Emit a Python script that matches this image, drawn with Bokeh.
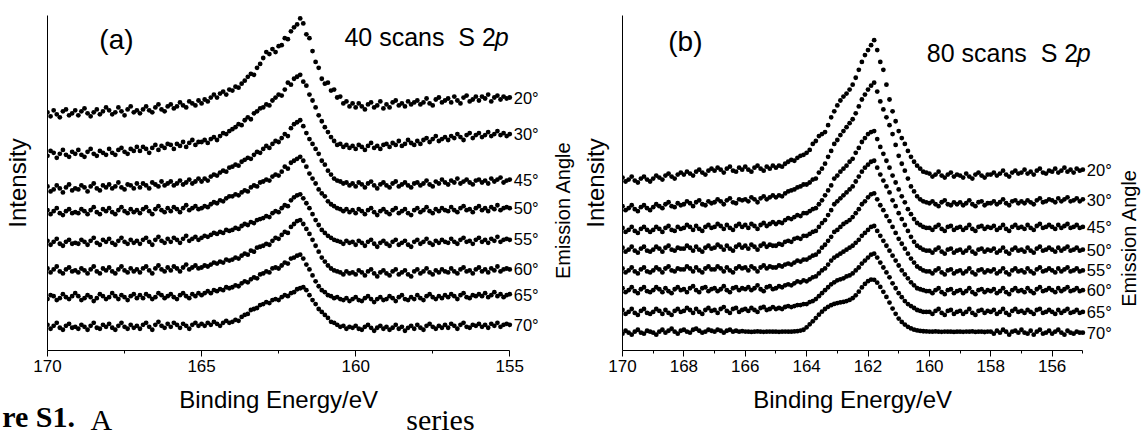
import math
import numpy as np
from bokeh.plotting import figure
from bokeh.layouts import row
from bokeh.models import Range1d, FixedTicker, Label, ColumnDataSource, LinearAxis
from bokeh.embed import file_html
from bokeh.resources import INLINE

# ---------------- data ----------------
E_START = 170.0      # binding energy of first point (eV)
E_STEP = 0.1         # acquisition step (eV)
N_POINTS = 151

ANGLES = ["20°", "30°", "45°", "50°", "55°", "60°", "65°", "70°"]

# (a) 40 scans, S 2p, intensity (a.u., offset per angle)
A_20 = [241, 237, 243, 239, 236, 242, 244, 238, 240, 243,
        238, 242, 245, 240, 237, 241, 244, 239, 242, 246,
        243, 239, 241, 246, 242, 238, 244, 247, 241, 243,
        240, 244, 247, 243, 241, 246, 249, 244, 242, 247,
        249, 245, 247, 251, 248, 246, 252, 250, 248, 253,
        250, 254, 252, 256, 259, 256, 260, 262, 259, 264,
        263, 267, 266, 270, 273, 277, 280, 279, 286, 290,
        296, 302, 300, 305, 302, 308, 309, 316, 315, 323,
        327, 330, 336, 331, 320, 316, 303, 292, 286, 275,
        270, 271, 263, 264, 256, 257, 250, 252, 247, 250,
        246, 250, 247, 244, 249, 251, 246, 248, 252, 245,
        249, 246, 251, 253, 248, 250, 247, 252, 249, 251,
        253, 249, 251, 255, 250, 248, 254, 256, 251, 253,
        255, 251, 257, 253, 250, 256, 258, 252, 254, 257,
        253, 257, 255, 259, 252, 256, 258, 254, 257, 255, 256]
A_30 = [197, 202, 200, 195, 199, 203, 198, 196, 201, 199,
        203, 198, 196, 201, 204, 199, 197, 202, 200, 198,
        204, 200, 198, 203, 205, 201, 199, 204, 202, 206,
        202, 206, 204, 200, 205, 208, 203, 207, 205, 209,
        208, 204, 209, 207, 211, 206, 210, 213, 208, 211,
        211, 213, 210, 214, 216, 213, 217, 220, 219, 222,
        224, 226, 229, 228, 233, 236, 234, 240, 242, 245,
        246, 249, 248, 253, 256, 259, 258, 264, 271, 269,
        275, 277, 279, 272, 268, 259, 253, 246, 238, 232,
        226, 221, 216, 212, 208, 209, 206, 208, 205, 207,
        204, 208, 206, 203, 207, 210, 205, 207, 204, 208,
        209, 206, 210, 208, 212, 207, 209, 213, 210, 208,
        212, 209, 213, 215, 211, 214, 217, 212, 214, 216,
        213, 217, 215, 219, 216, 213, 218, 220, 215, 218,
        220, 216, 218, 221, 217, 219, 222, 218, 220, 217, 219]
A_45 = [166, 161, 163, 167, 164, 160, 165, 168, 162, 164,
        163, 167, 165, 161, 166, 169, 164, 162, 167, 165,
        168, 164, 166, 170, 165, 163, 168, 167, 164, 169,
        165, 169, 167, 164, 170, 168, 166, 171, 167, 169,
        171, 167, 169, 172, 168, 170, 173, 169, 171, 174,
        171, 174, 172, 176, 178, 177, 180, 182, 181, 185,
        186, 188, 187, 191, 193, 195, 194, 198, 201, 200,
        204, 207, 205, 209, 212, 211, 215, 219, 217, 225,
        229, 231, 233, 227, 220, 214, 209, 204, 199, 192,
        188, 182, 178, 174, 172, 171, 169, 170, 167, 169,
        166, 170, 168, 165, 169, 171, 167, 164, 168, 170,
        167, 165, 169, 171, 166, 168, 170, 167, 165, 169,
        170, 167, 169, 172, 168, 166, 171, 169, 173, 170,
        168, 172, 170, 174, 169, 171, 173, 170, 168, 172,
        173, 170, 172, 169, 174, 171, 173, 175, 170, 172, 173]
A_50 = [142, 138, 141, 144, 139, 137, 141, 143, 139, 140,
        139, 143, 141, 138, 142, 145, 140, 138, 143, 141,
        144, 140, 138, 142, 145, 141, 139, 143, 140, 142,
        139, 143, 145, 141, 138, 143, 146, 142, 140, 144,
        141, 145, 143, 140, 144, 147, 142, 144, 146, 143,
        144, 146, 145, 148, 150, 149, 152, 151, 154, 156,
        156, 158, 157, 160, 162, 161, 165, 167, 166, 170,
        171, 173, 172, 176, 178, 177, 181, 186, 184, 190,
        192, 194, 196, 192, 186, 179, 174, 169, 163, 159,
        156, 151, 148, 146, 144, 143, 141, 143, 140, 142,
        139, 143, 141, 138, 142, 144, 140, 137, 141, 143,
        140, 138, 142, 144, 139, 141, 143, 139, 137, 142,
        144, 140, 142, 145, 141, 139, 143, 141, 144, 142,
        141, 145, 142, 140, 144, 146, 142, 143, 140, 144,
        146, 142, 144, 141, 145, 143, 147, 142, 144, 145, 144]
A_55 = [111, 107, 110, 113, 108, 106, 110, 112, 108, 109,
        108, 112, 110, 107, 111, 114, 109, 107, 112, 110,
        113, 109, 107, 111, 114, 110, 108, 112, 109, 111,
        108, 112, 114, 110, 107, 112, 115, 111, 109, 113,
        110, 114, 112, 109, 113, 116, 111, 113, 115, 112,
        114, 116, 115, 117, 119, 118, 120, 119, 122, 121,
        122, 124, 123, 126, 128, 127, 130, 129, 132, 133,
        134, 136, 135, 139, 141, 140, 144, 147, 146, 152,
        155, 157, 158, 154, 149, 144, 138, 132, 127, 122,
        119, 116, 114, 112, 111, 110, 108, 111, 109, 110,
        107, 111, 109, 106, 110, 112, 108, 105, 109, 111,
        108, 106, 110, 112, 107, 109, 111, 107, 105, 110,
        112, 108, 110, 113, 109, 107, 111, 109, 112, 110,
        109, 113, 110, 108, 112, 114, 110, 111, 108, 112,
        114, 110, 112, 109, 113, 111, 115, 110, 112, 113, 112]
A_60 = [83, 79, 82, 85, 80, 78, 82, 84, 80, 81,
        79, 83, 81, 78, 82, 85, 80, 78, 83, 81,
        84, 80, 78, 82, 85, 81, 79, 83, 80, 82,
        79, 83, 85, 81, 78, 83, 86, 82, 80, 84,
        81, 85, 83, 80, 84, 87, 82, 84, 86, 83,
        84, 86, 85, 87, 89, 88, 90, 89, 92, 91,
        92, 94, 93, 96, 98, 97, 101, 100, 104, 105,
        106, 108, 107, 111, 114, 113, 117, 120, 119, 125,
        128, 131, 132, 128, 123, 118, 112, 106, 100, 94,
        90, 86, 83, 81, 80, 79, 77, 80, 78, 79,
        77, 81, 79, 76, 80, 82, 78, 75, 79, 81,
        78, 76, 80, 82, 77, 79, 81, 77, 75, 80,
        82, 78, 80, 83, 79, 77, 81, 79, 82, 80,
        79, 83, 80, 78, 82, 84, 80, 81, 78, 82,
        84, 80, 82, 79, 83, 81, 85, 80, 82, 83, 82]
A_65 = [52, 56, 55, 51, 53, 57, 54, 52, 55, 58,
        55, 51, 53, 56, 54, 50, 53, 57, 55, 52,
        54, 58, 55, 52, 56, 54, 51, 55, 57, 53,
        56, 53, 57, 55, 52, 54, 58, 56, 53, 55,
        57, 54, 52, 56, 58, 55, 53, 57, 55, 58,
        56, 58, 60, 58, 61, 60, 62, 61, 64, 63,
        64, 66, 65, 68, 70, 69, 72, 74, 73, 77,
        78, 80, 79, 83, 84, 83, 86, 89, 88, 93,
        94, 96, 97, 93, 87, 82, 76, 70, 65, 61,
        59, 56, 55, 53, 54, 52, 51, 53, 50, 52,
        54, 51, 50, 53, 55, 52, 49, 52, 54, 51,
        52, 55, 53, 50, 54, 56, 52, 51, 54, 52,
        56, 53, 51, 55, 57, 54, 52, 55, 53, 56,
        54, 57, 55, 52, 56, 58, 54, 53, 56, 55,
        57, 55, 58, 54, 56, 59, 55, 57, 54, 56, 57]
A_70 = [26, 22, 25, 28, 23, 21, 25, 27, 23, 24,
        22, 26, 24, 21, 25, 28, 23, 22, 26, 24,
        27, 23, 21, 25, 28, 24, 22, 26, 23, 25,
        22, 26, 28, 24, 21, 26, 29, 25, 23, 27,
        24, 28, 26, 23, 27, 25, 22, 26, 28, 25,
        27, 25, 28, 26, 29, 27, 25, 28, 30, 28,
        29, 31, 30, 34, 36, 37, 41, 42, 43, 46,
        47, 49, 48, 51, 52, 51, 54, 56, 55, 58,
        59, 62, 63, 64, 61, 56, 51, 47, 42, 39,
        36, 33, 29, 28, 26, 24, 25, 22, 24, 23,
        25, 22, 21, 24, 26, 23, 20, 23, 25, 22,
        24, 21, 23, 26, 22, 24, 20, 23, 25, 22,
        26, 23, 21, 25, 27, 24, 22, 25, 23, 26,
        23, 27, 25, 22, 26, 28, 24, 23, 26, 25,
        27, 24, 26, 23, 27, 25, 28, 24, 26, 27, 26]

# (b) 80 scans, S 2p
B_20 = [175, 171, 173, 176, 172, 170, 174, 176, 173, 171,
        174, 177, 175, 173, 177, 179, 176, 174, 178, 180,
        178, 181, 179, 177, 181, 183, 180, 178, 182, 184,
        182, 185, 183, 180, 184, 186, 182, 181, 185, 183,
        186, 183, 181, 185, 187, 184, 182, 186, 184, 187,
        185, 187, 186, 189, 191, 193, 192, 195, 197, 198,
        200, 203, 209, 212, 217, 219, 221, 228, 236, 242,
        248, 253, 257, 260, 264, 269, 276, 284, 292, 299,
        304, 309, 314, 304, 292, 284, 269, 254, 242, 232,
        222, 215, 209, 202, 196, 191, 187, 184, 181, 180,
        179, 176, 178, 181, 177, 175, 178, 180, 176, 178,
        177, 175, 179, 176, 174, 178, 180, 177, 175, 178,
        178, 180, 177, 179, 182, 178, 176, 180, 182, 179,
        180, 183, 179, 181, 178, 182, 184, 180, 179, 182,
        181, 184, 180, 182, 185, 181, 183, 180, 184, 182, 183]
B_30 = [146, 142, 144, 147, 143, 141, 145, 147, 144, 142,
        145, 148, 146, 144, 148, 150, 146, 145, 149, 147,
        148, 151, 149, 146, 150, 152, 148, 147, 151, 149,
        150, 153, 151, 148, 152, 154, 150, 149, 153, 152,
        153, 151, 155, 153, 150, 154, 156, 153, 155, 157,
        155, 157, 156, 159, 161, 162, 163, 165, 166, 168,
        168, 170, 173, 174, 180, 184, 189, 196, 202, 209,
        213, 218, 222, 226, 230, 234, 240, 247, 254, 259,
        264, 268, 271, 262, 252, 244, 236, 228, 219, 208,
        197, 189, 182, 174, 166, 161, 156, 153, 151, 150,
        149, 151, 148, 146, 150, 152, 148, 147, 150, 148,
        150, 147, 149, 152, 148, 146, 150, 151, 147, 149,
        149, 151, 148, 150, 153, 149, 147, 151, 152, 149,
        151, 149, 152, 150, 148, 152, 154, 150, 151, 153,
        152, 150, 154, 151, 153, 155, 151, 152, 154, 151, 153]
B_45 = [124, 120, 122, 125, 121, 119, 123, 125, 122, 120,
        122, 125, 123, 120, 124, 126, 122, 121, 125, 123,
        124, 127, 125, 122, 126, 123, 121, 125, 127, 124,
        125, 128, 126, 123, 127, 124, 122, 126, 128, 125,
        127, 124, 128, 126, 123, 127, 129, 126, 128, 130,
        128, 130, 129, 132, 134, 133, 135, 137, 136, 139,
        139, 141, 143, 144, 148, 152, 157, 162, 167, 174,
        177, 181, 184, 187, 191, 194, 200, 205, 211, 215,
        219, 221, 222, 214, 206, 199, 192, 185, 177, 170,
        163, 156, 150, 143, 138, 133, 129, 127, 125, 124,
        124, 122, 125, 127, 123, 121, 125, 126, 122, 124,
        125, 122, 124, 127, 123, 121, 125, 126, 123, 125,
        124, 126, 122, 124, 127, 123, 121, 125, 127, 124,
        125, 123, 127, 124, 122, 126, 128, 124, 125, 127,
        125, 123, 127, 124, 126, 128, 124, 125, 127, 124, 125]
B_50 = [104, 100, 102, 105, 101, 99, 103, 105, 101, 100,
        102, 105, 103, 100, 104, 106, 102, 101, 104, 103,
        103, 106, 104, 101, 105, 102, 100, 104, 106, 103,
        104, 107, 105, 102, 106, 103, 101, 105, 107, 104,
        106, 103, 107, 105, 102, 106, 108, 105, 107, 106,
        106, 108, 107, 110, 111, 110, 113, 114, 113, 116,
        116, 118, 120, 121, 125, 129, 132, 137, 142, 148,
        151, 154, 157, 160, 163, 166, 171, 176, 181, 185,
        188, 191, 192, 185, 178, 172, 166, 160, 152, 146,
        139, 133, 127, 121, 115, 110, 106, 104, 102, 101,
        101, 99, 102, 104, 100, 98, 102, 103, 99, 101,
        102, 99, 101, 104, 100, 98, 102, 103, 100, 102,
        101, 103, 99, 101, 104, 100, 98, 102, 104, 101,
        102, 100, 104, 101, 99, 103, 105, 101, 102, 104,
        102, 100, 104, 101, 103, 105, 101, 102, 104, 101, 102]
B_55 = [83, 79, 81, 84, 80, 78, 82, 84, 80, 79,
        81, 84, 82, 79, 83, 85, 81, 80, 83, 82,
        82, 85, 83, 80, 84, 81, 79, 83, 85, 82,
        82, 85, 83, 80, 84, 81, 79, 83, 85, 83,
        84, 81, 85, 83, 80, 84, 86, 83, 85, 84,
        84, 86, 85, 87, 88, 87, 89, 91, 90, 92,
        92, 94, 96, 97, 100, 104, 107, 111, 115, 120,
        122, 125, 128, 130, 132, 135, 139, 143, 148, 151,
        155, 158, 159, 153, 147, 142, 136, 131, 125, 119,
        113, 108, 103, 98, 93, 89, 85, 83, 81, 80,
        80, 78, 81, 83, 79, 77, 81, 82, 78, 80,
        81, 78, 80, 83, 79, 77, 81, 82, 79, 81,
        80, 82, 78, 80, 83, 79, 77, 81, 83, 80,
        81, 79, 83, 80, 78, 82, 84, 80, 81, 83,
        81, 79, 83, 80, 82, 84, 80, 81, 83, 80, 81]
B_60 = [63, 59, 61, 64, 60, 58, 62, 64, 60, 59,
        61, 64, 62, 59, 63, 60, 58, 62, 64, 61,
        62, 59, 63, 65, 61, 59, 63, 64, 60, 62,
        63, 60, 62, 65, 61, 59, 63, 64, 61, 63,
        62, 64, 61, 63, 66, 62, 60, 64, 65, 62,
        63, 65, 64, 66, 67, 66, 68, 70, 69, 71,
        70, 72, 74, 75, 78, 81, 83, 87, 91, 94,
        96, 98, 100, 102, 104, 106, 109, 112, 116, 119,
        122, 125, 126, 121, 116, 111, 106, 101, 96, 91,
        86, 81, 77, 73, 69, 66, 63, 62, 61, 60,
        60, 58, 61, 63, 59, 57, 61, 62, 58, 60,
        61, 58, 60, 63, 59, 57, 61, 62, 59, 61,
        60, 62, 58, 60, 63, 59, 57, 61, 63, 60,
        61, 59, 63, 60, 58, 62, 64, 60, 61, 63,
        61, 59, 63, 60, 62, 64, 60, 61, 63, 60, 61]
B_65 = [41, 37, 39, 42, 38, 36, 40, 42, 38, 37,
        39, 42, 40, 37, 41, 38, 36, 40, 42, 39,
        40, 43, 41, 38, 42, 39, 37, 41, 43, 40,
        41, 38, 42, 44, 40, 38, 42, 43, 39, 41,
        42, 40, 43, 41, 39, 43, 44, 41, 42, 44,
        42, 43, 42, 44, 45, 44, 45, 46, 46, 47,
        47, 49, 50, 52, 55, 58, 61, 64, 67, 69,
        71, 72, 73, 75, 76, 78, 81, 84, 88, 91,
        94, 97, 98, 94, 89, 84, 79, 74, 68, 63,
        58, 54, 50, 47, 45, 43, 41, 40, 39, 39,
        39, 37, 40, 42, 38, 36, 40, 41, 37, 39,
        40, 37, 39, 42, 38, 36, 40, 41, 38, 40,
        39, 41, 37, 39, 42, 38, 36, 40, 42, 39,
        40, 38, 41, 39, 37, 41, 42, 38, 39, 41,
        39, 37, 41, 38, 40, 42, 38, 39, 41, 38, 39]
B_70 = [17, 20, 18, 16, 19, 21, 18, 17, 20, 19,
        18, 16, 19, 21, 18, 20, 22, 19, 17, 20,
        21, 19, 18, 21, 22, 20, 18, 19, 21, 20,
        19, 21, 20, 18, 20, 21, 19, 20, 19, 19.5,
        19.2, 19.0, 18.8, 19.1, 19.3, 19.0, 18.9, 19.0, 19.2, 19.0,
        19.1, 18.9, 19.0, 19.2, 19.0, 19.1, 19.3, 19.6, 20.2, 21.0,
        23.5, 26.5, 29.5, 32.8, 36.2, 39.3, 42.0, 44.2, 45.9, 47.1,
        48.0, 48.6, 49.2, 50.0, 51.2, 53.0, 55.8, 59.5, 63.8, 67.4,
        70.2, 71.8, 71.5, 68.6, 64.3, 59.4, 54.2, 48.5, 42.4, 37.1,
        32.3, 28.9, 26.2, 24.0, 22.3, 21.1, 20.3, 19.8, 19.5, 19.3,
        19.2, 19.0, 19.3, 19.1, 18.9, 19.2, 19.0, 19.1, 18.8, 19.0,
        19.1, 18.9, 19.2, 19.0, 19.3, 18.8, 19.1, 19.0, 18.7, 19.2,
        19, 17, 20, 18, 21, 19, 16, 19, 20, 18,
        21, 18, 17, 20, 16, 19, 21, 17, 18, 20,
        17, 19, 21, 18, 16, 20, 18, 17, 19, 18, 18]

SERIES_A = [A_20, A_30, A_45, A_50, A_55, A_60, A_65, A_70]
SERIES_B = [B_20, B_30, B_45, B_50, B_55, B_60, B_65, B_70]

TICKS_A = [170, 165, 160, 155]
MINOR_A = [167.5, 162.5, 157.5]
TICKS_B = [170, 168, 166, 164, 162, 160, 158, 156]
MINOR_B = [169, 167, 165, 163, 161, 159, 157, 155]

for name, s in [("A", SERIES_A), ("B", SERIES_B)]:
    for k, v in enumerate(s):
        assert len(v) == N_POINTS, f"{name} series {k} has {len(v)} points"

energy = np.round(E_START - E_STEP * np.arange(N_POINTS), 2)

# ---------------- style / layout ----------------
FONT = "Liberation Sans"
SERIF = "Liberation Serif"
H = 438
TOP, BOTTOM = 15, 84
Y_MAX = 339
NB = "\u00a0"


def text_axis(p, items, size, font, style, standoff):
    ticks = [t for t, _ in items]
    ax = LinearAxis(ticker=FixedTicker(ticks=ticks),
                    major_label_overrides={t: s for t, s in items})
    ax.axis_line_color = None
    ax.major_tick_line_color = None
    ax.minor_tick_line_color = None
    ax.major_tick_out = 0
    ax.major_tick_in = 0
    ax.minor_tick_out = 0
    ax.minor_tick_in = 0
    ax.major_label_standoff = standoff
    ax.major_label_text_font = font
    ax.major_label_text_font_size = size
    ax.major_label_text_font_style = style
    ax.major_label_text_color = "black"
    p.add_layout(ax, "below")
    return ax


def make_panel(series, width, bl, x_end, major, minor, ylab_standoff):
    p = figure(width=width, height=H, x_range=Range1d(170, x_end), y_range=Range1d(0, Y_MAX),
               output_backend="svg", toolbar_location=None,
               min_border_left=bl, min_border_right=0,
               min_border_top=TOP, min_border_bottom=BOTTOM)
    p.grid.visible = False
    p.outline_line_color = None
    p.background_fill_color = "white"
    p.border_fill_color = "white"
    for vals in series:
        src = ColumnDataSource(dict(x=energy, y=vals))
        p.scatter("x", "y", source=src, size=4.8, marker="circle",
                  fill_color="black", line_color=None)
    xa = p.xaxis[0]
    xa.bounds = (155, 170)
    xa.ticker = FixedTicker(ticks=major, minor_ticks=minor)
    xa.axis_line_color = "black"
    xa.axis_line_width = 1
    xa.major_tick_line_color = "black"
    xa.minor_tick_line_color = "black"
    xa.major_tick_in = 0
    xa.major_tick_out = 6
    xa.minor_tick_in = 0
    xa.minor_tick_out = 3
    xa.major_label_standoff = 3
    xa.major_label_text_font = FONT
    xa.major_label_text_font_size = "17px"
    xa.major_label_text_color = "black"

    # axis title, centred on the 155-170 eV span
    text_axis(p, [(162.5, "Binding Energy/eV")], "24px", FONT, "normal", 11)

    ya = p.yaxis[0]
    ya.ticker = FixedTicker(ticks=[])
    ya.axis_line_color = "black"
    ya.axis_line_width = 1
    ya.major_tick_line_color = None
    ya.minor_tick_line_color = None
    ya.major_tick_out = 0
    ya.major_tick_in = 0
    ya.major_label_standoff = 0
    ya.axis_label = "Intensity"
    ya.axis_label_text_font = FONT
    ya.axis_label_text_font_size = "24px"
    ya.axis_label_text_font_style = "normal"
    ya.axis_label_text_color = "black"
    ya.axis_label_standoff = ylab_standoff
    return p


def lab(p, x, y, text, size, align="left", baseline="alphabetic", angle=0.0,
        font=FONT, style="normal"):
    p.add_layout(Label(x=x, y=y, text=text, text_font=font, text_font_size=size,
                       text_font_style=style, text_color="black", text_align=align,
                       text_baseline=baseline, angle=angle, angle_units="rad"))


yy = lambda py: 354 - py

# panel (a): frame from 45 px to the right edge; 170..155 eV spans 45..509 px
sa = 464 / 15.0
pa = make_panel(SERIES_A, 578, 45, 170 - (578 - 45) / sa, TICKS_A, MINOR_A, 17)
ea = lambda px: 170 - (px - 45) / sa
for ang, vals in zip(ANGLES, SERIES_A):
    lab(pa, ea(513), float(np.mean(vals[-5:])), ang, "16.5px", baseline="middle")
lab(pa, ea(562), yy(212), "Emission Angle", "20px", align="center", angle=math.pi / 2)
lab(pa, ea(97), yy(39), "(a)", "28px")
lab(pa, ea(343), yy(37), "40 scans" + NB + NB + "S 2", "25px")
lab(pa, ea(494), yy(37), "p", "25px", style="italic")
# figure caption fragments below the axis
text_axis(pa, [(169.8, "re S1." + NB * 4)], "30px", SERIF, "bold", -16)
text_axis(pa, [(168.25, "A"), (157.25, "series")], "30px", SERIF, "normal", -33)

# panel (b): frame from 619 px to the right edge; 170..155 eV spans 619..1082 px
sb = 463 / 15.0
pb = make_panel(SERIES_B, 563, 41, 170 - (1141 - 619) / sb, TICKS_B, MINOR_B, 14)
eb = lambda px: 170 - (px - 619) / sb
for ang, vals in zip(ANGLES, SERIES_B):
    lab(pb, eb(1086), float(np.mean(vals[-5:])), ang, "16.5px", baseline="middle")
lab(pb, eb(1128), yy(240), "Emission Angle", "20px", align="center", angle=math.pi / 2)
lab(pb, eb(665), yy(41), "(b)", "28px")
lab(pb, eb(925), yy(53), "80 scans" + NB + NB + "S 2", "25px")
lab(pb, eb(1076), yy(53), "p", "25px", style="italic")

layout = row(pa, pb)
open("out.html", "w").write(file_html(layout, INLINE))
